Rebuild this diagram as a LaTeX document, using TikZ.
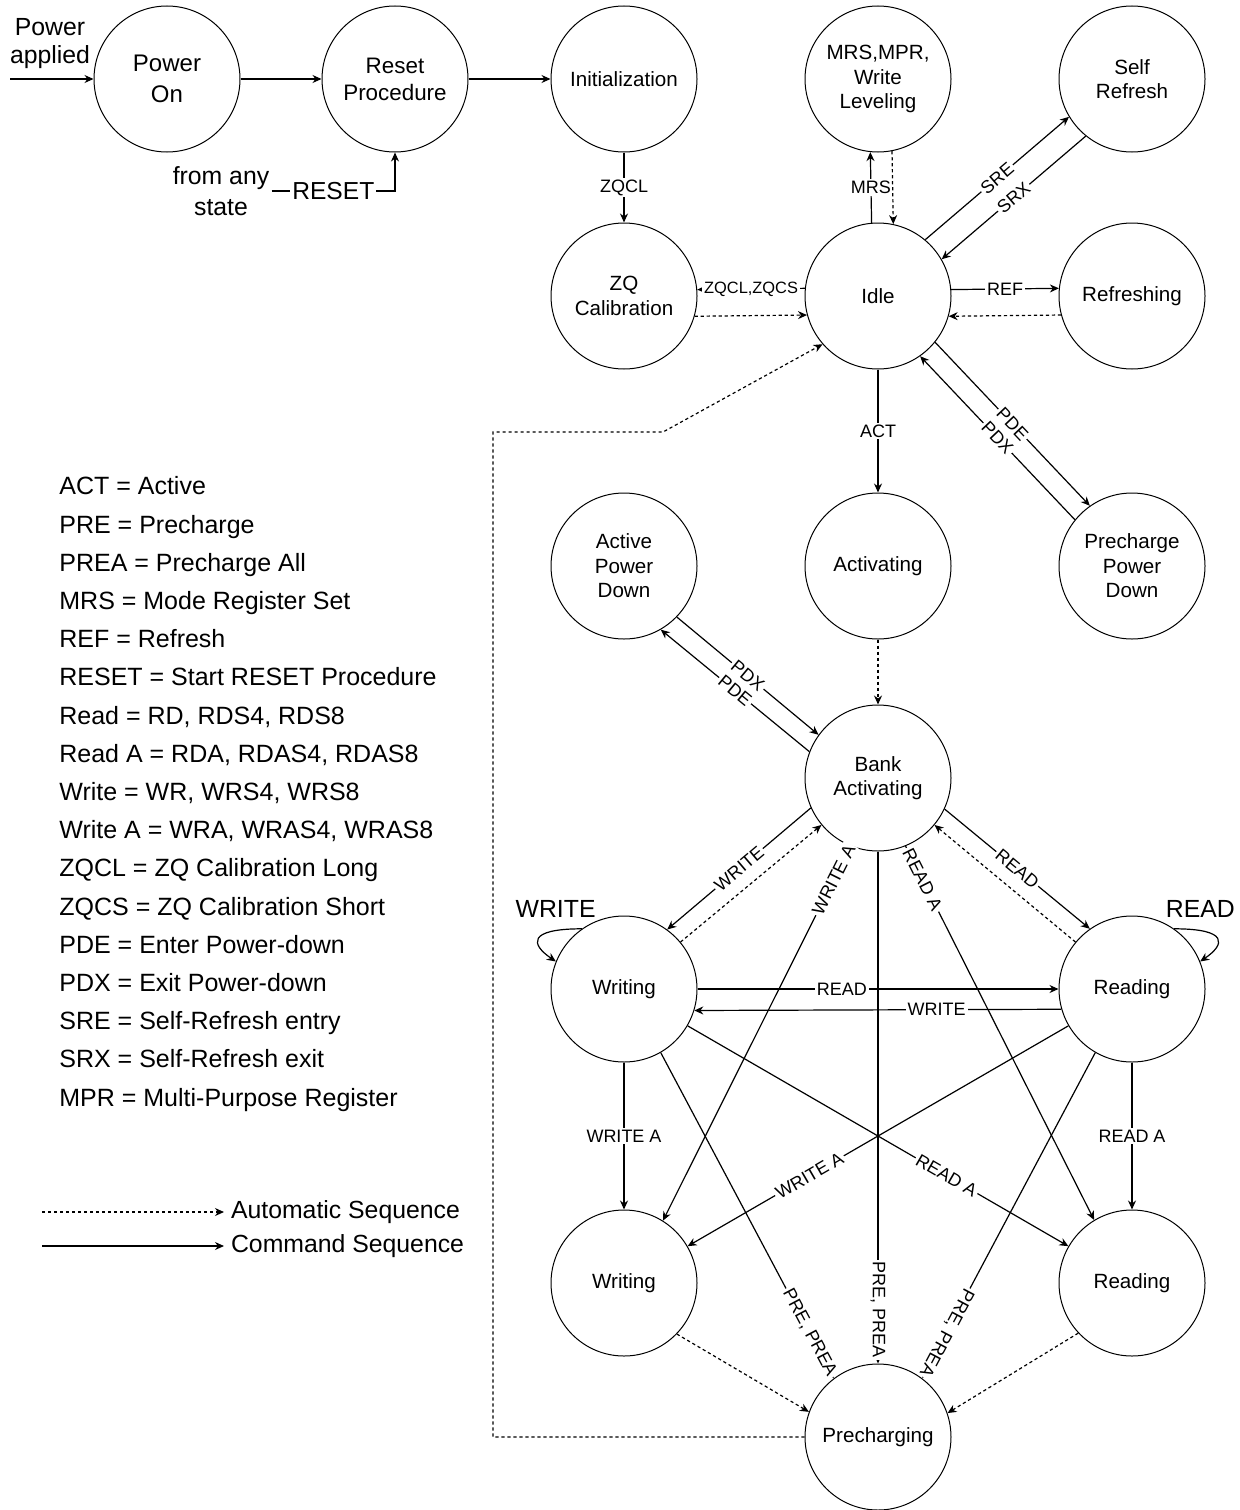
\documentclass[tikz,border=0pt]{standalone}
\usepackage{fontspec}
\setmainfont{Liberation Sans}
\usetikzlibrary{arrows.meta}

\tikzset{
  state/.style={circle, draw, line width=0.5pt, minimum size=73pt, inner sep=0pt,
    align=center, font=\fontsize{10.3}{12.3}\selectfont},
  lbl/.style={fill=white, inner sep=1pt, font=\fontsize{9}{10}\selectfont},
  bigtxt/.style={font=\fontsize{12.4}{15.5}\selectfont},
  cmd/.style={-{Stealth[length=4.5pt,width=4pt]}, line width=0.6pt},
  autoseq/.style={cmd, dash pattern=on 1.6pt off 1.4pt},
}

\begin{document}
\begin{tikzpicture}[x=50pt, y=50pt]
  \useasboundingbox (0,0) rectangle (12.39,-15.10);

  % states
  \node (poweron) [state, font=\fontsize{12}{15.5}\selectfont] at (1.67,-0.79) {Power\\On};
  \node (reset) [state, font=\fontsize{11.2}{13.5}\selectfont] at (3.95,-0.79) {Reset\\Procedure};
  \node (init) [state] at (6.24,-0.79) {Initialization};
  \node (mrs) [state] at (8.78,-0.79) {MRS,MPR,\\Write\\Leveling};
  \node (selfref) [state] at (11.32,-0.79) {Self\\Refresh};
  \node (zqcal) [state] at (6.24,-2.96) {ZQ\\Calibration};
  \node (idle) [state] at (8.78,-2.96) {Idle};
  \node (refresh) [state] at (11.32,-2.96) {Refreshing};
  \node (apd) [state] at (6.24,-5.66) {Active\\Power\\Down};
  \node (activating) [state] at (8.78,-5.66) {Activating};
  \node (ppd) [state] at (11.32,-5.66) {Precharge\\Power\\Down};
  \node (bank) [state] at (8.78,-7.78) {Bank\\Activating};
  \node (writing) [state] at (6.24,-9.89) {Writing};
  \node (reading) [state] at (11.32,-9.89) {Reading};
  \node (writinga) [state] at (6.24,-12.83) {Writing};
  \node (readinga) [state] at (11.32,-12.83) {Reading};
  \node (prech) [state] at (8.78,-14.37) {Precharging};

  % free texts
  \node (applied) [bigtxt, font=\fontsize{12.4}{14}\selectfont, align=center] at (0.50,-0.44) {Power\\applied};
  \coordinate (pwr) at (0.10,-0.79);
  \node (anystate) [bigtxt, align=center, inner sep=1pt] at (2.21,-1.91) {from any\\state};

  \node (legend) [anchor=west, align=left, inner sep=0pt,
    font=\fontsize{12.5}{19.1}\selectfont] at (0.59,-7.94)
    {ACT = Active\\
     PRE = Precharge\\
     PREA = Precharge All\\
     MRS = Mode Register Set\\
     REF = Refresh\\
     RESET = Start RESET Procedure\\
     Read = RD, RDS4, RDS8\\
     Read A = RDA, RDAS4, RDAS8\\
     Write = WR, WRS4, WRS8\\
     Write A = WRA, WRAS4, WRAS8\\
     ZQCL = ZQ Calibration Long\\
     ZQCS = ZQ Calibration Short\\
     PDE = Enter Power-down\\
     PDX = Exit Power-down\\
     SRE = Self-Refresh entry\\
     SRX = Self-Refresh exit\\
     MPR = Multi-Purpose Register};

  \coordinate (autostart) at (0.42,-12.12);
  \node (autotxt) [bigtxt, anchor=west] at (2.24,-12.12) {Automatic Sequence};
  \coordinate (cmdstart) at (0.42,-12.46);
  \node (cmdtxt) [bigtxt, anchor=west] at (2.24,-12.46) {Command Sequence};

  % command sequences
  \path [cmd]
    (pwr) edge (poweron)
    (poweron) edge (reset)
    (reset) edge (init)
    (init) edge node [lbl] {ZQCL} (zqcal)
    (idle.174.5) edge node [lbl, font=\fontsize{8.2}{9}\selectfont] {ZQCL,ZQCS} (zqcal.5.5)
    (idle.95.5) edge node [lbl] {MRS} (mrs.264.5)
    (idle.50) edge node [lbl, sloped] {SRE} (selfref.211)
    (selfref.231) edge node [lbl, sloped] {SRX} (idle.30)
    (idle.5.5) edge node [lbl] {REF} (refresh.174.5)
    (idle) edge node [lbl] {ACT} (activating)
    (idle.321.2) edge node [lbl, sloped] {PDE} (ppd.125.4)
    (ppd.141.2) edge node [lbl, sloped] {PDX} (idle.305.4)
    (apd.316.2) edge node [lbl, sloped] {PDX} (bank.144)
    (bank.159.3) edge node [lbl, sloped] {PDE} (apd.300.9)
    (bank.204.6) edge node [lbl, sloped] {WRITE} (writing.54.8)
    (bank.335.4) edge node [lbl, sloped] {READ} (reading.125.2)
    (writing) edge node [lbl, pos=0.4] {READ} (reading)
    (reading.196.7) edge node [lbl, pos=0.34] {WRITE} (writing.343.3)
    (writing) edge node [lbl] {WRITE A} (writinga)
    (reading) edge node [lbl] {READ A} (readinga)
    (writing) edge node [lbl, sloped, pos=0.68] {READ A} (readinga)
    (reading) edge node [lbl, sloped, pos=0.68] {WRITE A} (writinga)
    (bank.248) edge node [lbl, sloped, pos=0.09] {WRITE A} (writinga.58.6)
    (bank.292) edge node [lbl, sloped, pos=0.09] {READ A} (readinga.121.4)
    (writing.300) edge node [lbl, sloped, pos=0.86] {PRE, PREA} (prech.127)
    (bank) edge node [lbl, sloped, allow upside down, pos=0.895] {PRE, PREA} (prech)
    (reading.240) edge node [lbl, sloped, allow upside down, pos=0.86] {PRE, PREA} (prech.53)
    (cmdstart) edge (cmdtxt);

  \draw [cmd] (anystate.east) -| node [lbl, pos=0.25, font=\fontsize{12.3}{14}\selectfont] {RESET} (reset.south);
  \draw [cmd] (writing.125) .. controls +(-0.55,0) and +(-0.25,0.17) .. (writing.158)
    node [bigtxt, pos=0.2, above=3pt] {WRITE};
  \draw [cmd] (reading.55) .. controls +(0.55,0) and +(0.25,0.17) .. (reading.22)
    node [bigtxt, pos=0.2, above=3pt] {READ};

  % automatic sequences
  \path [autoseq]
    (zqcal.344.1) edge (idle.195.9)
    (mrs.281.9) edge (idle.78.1)
    (refresh.195.9) edge (idle.344.1)
    (activating) edge (bank)
    (writing) edge (bank)
    (reading) edge (bank)
    (writinga.316.9) edge (prech.160.7)
    (readinga.223.1) edge (prech.19.3)
    (autostart) edge (autotxt);
  \draw [autoseq] (prech.west) -| (4.93,-4.32) -- (6.63,-4.32) -- (idle.221);
\end{tikzpicture}
\end{document}
